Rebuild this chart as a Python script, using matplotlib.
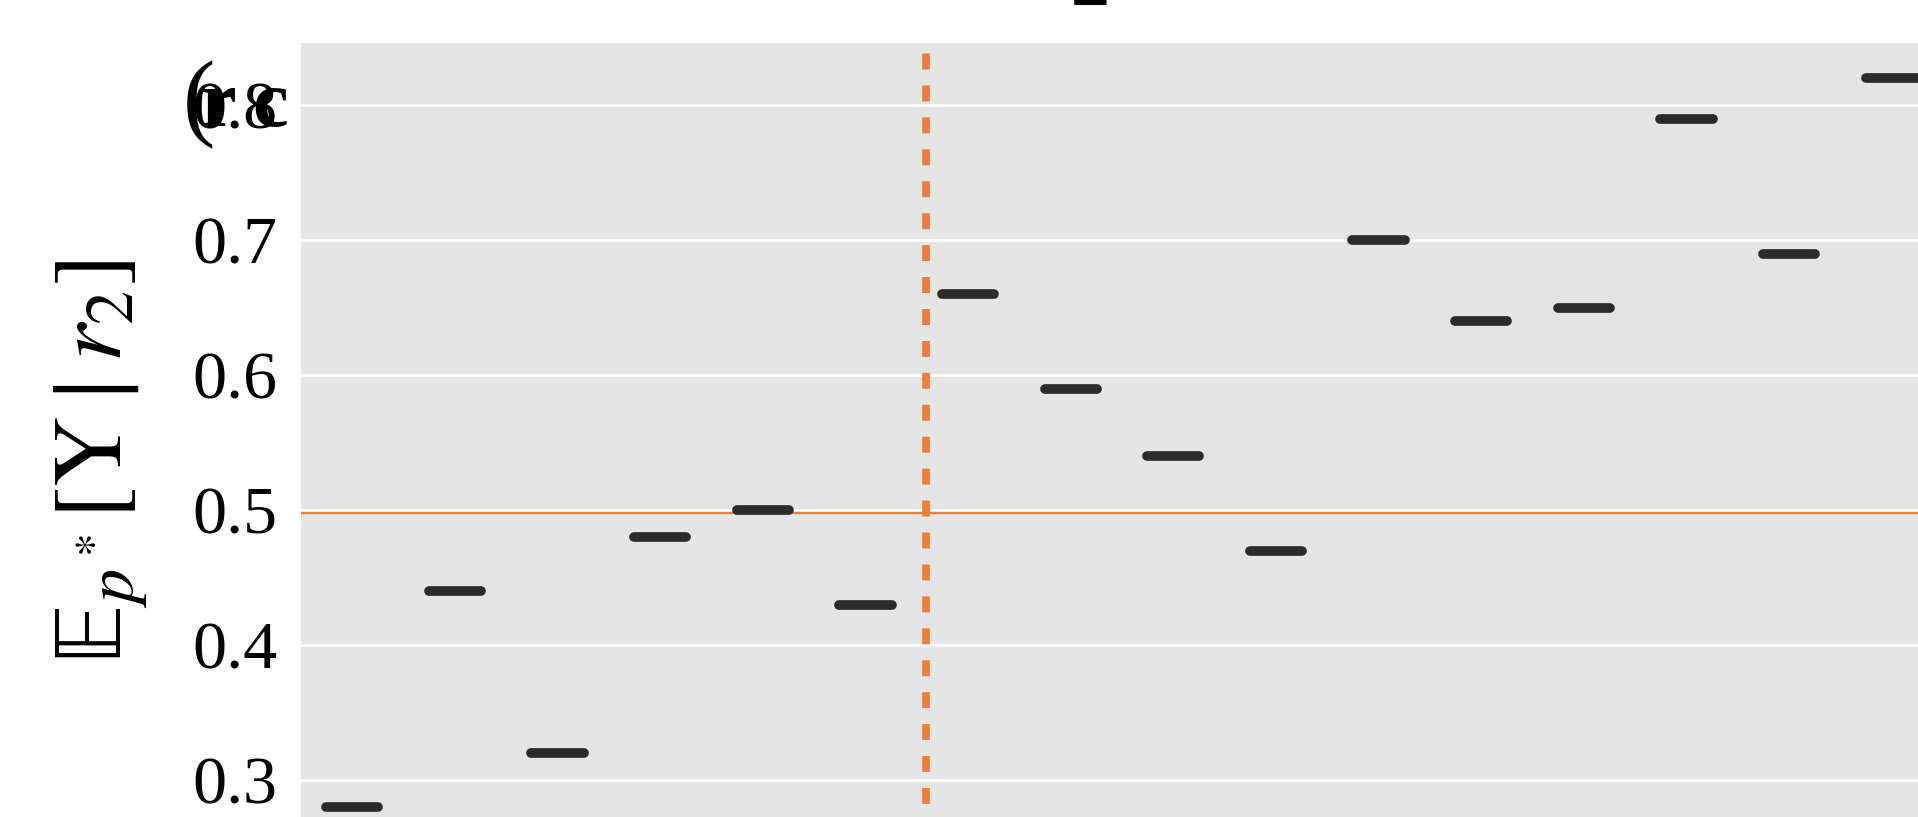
import matplotlib
matplotlib.use("Agg")
import matplotlib.pyplot as plt

plt.rcParams['font.family'] = ['Liberation Serif', 'DejaVu Serif']
plt.rcParams['mathtext.fontset'] = 'stix'

# data
groups = list(range(16))
values = [0.28, 0.44, 0.32, 0.48, 0.50, 0.43, 0.66, 0.59, 0.54, 0.47,
          0.70, 0.64, 0.65, 0.79, 0.69, 0.82]
yticks = [0.3, 0.4, 0.5, 0.6, 0.7, 0.8]
ref_level = 0.498
split_x = 5.59

W, H = 1918, 817
fig = plt.figure(figsize=(W / 100, H / 100), dpi=100)
left_px, right_px, top_px, bot_px = 301, 1943, 42.7, 882
ax = fig.add_axes([left_px / W, 1 - bot_px / H, (right_px - left_px) / W, (bot_px - top_px) / H])
ax.set_facecolor('#E5E5E5')
for s in ax.spines.values():
    s.set_visible(False)

ax.set_xlim(-0.5, 15.5)
ax.set_ylim(0.2244, 0.8465)
ax.set_yticks(yticks)
ax.set_yticklabels([f"{t:.1f}" for t in yticks])
ax.set_xticks([])
ax.grid(axis='y', color='white', linewidth=1.9)
ax.set_axisbelow(True)
ax.tick_params(axis='y', length=0, pad=17, labelsize=49)

# horizontal reference line
ax.axhline(ref_level, color='#EF7D33', linewidth=1.7, zorder=2)

# horizontal dashes
ax.hlines(values, [g - 0.255 for g in groups], [g + 0.255 for g in groups],
          colors='#2B2B2B', linewidth=7, capstyle='round', zorder=3)

# vertical dashed split line, drawn from top down
ax.plot([split_x, split_x], [1, 0], transform=ax.get_xaxis_transform(),
        color='#EF7D33', linewidth=5.5, linestyle=(2.8, (2.09, 2.09)),
        dash_capstyle='butt', zorder=2.5)

ax.set_ylabel(r'$\mathrm{\mathbb{E}}_{p^*}[\mathrm{Y} \mid r_2]$', fontsize=70, labelpad=30)

# stray overlapping text near the top tick label
fig.text(183 / W, 1 - 105 / H, '(', fontsize=70, ha='left', va='center', color='black')
fig.text(201 / W, 1 - 126 / H, 'r', fontsize=58, ha='left', va='baseline',
         fontweight='bold', color='black')
fig.text(252 / W, 1 - 126 / H, 'c', fontsize=58, ha='left', va='baseline',
         fontweight='bold', color='black')

# partially visible title fragment
fig.text(1090 / W, 1 - 5 / H, '2', fontsize=56, ha='center', va='baseline',
         fontweight='bold', color='black')

fig.savefig('out.png', dpi=100)
